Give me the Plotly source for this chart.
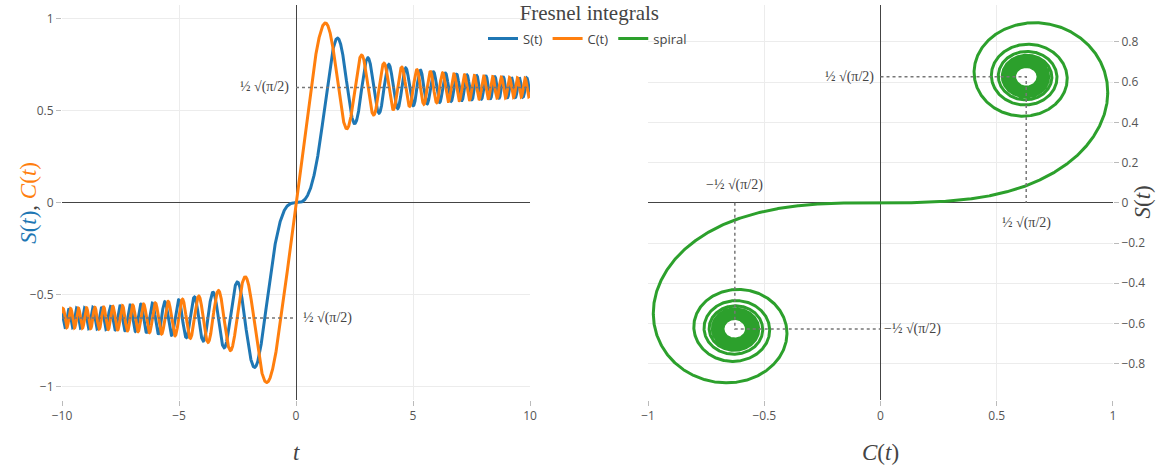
import numpy as np
import plotly.graph_objects as go

# Parameter range of the curves (Fresnel integrals S(t)=∫sin(u²)du, C(t)=∫cos(u²)du)
t_range = [-10, 10]
n_points = 8001
limit = 0.5 * np.sqrt(np.pi / 2)  # asymptotic value

# Axis tick values
left_xticks = [-10, -5, 0, 5, 10]
left_yticks = [-1, -0.5, 0, 0.5, 1]
right_xticks = [-1, -0.5, 0, 0.5, 1]
right_yticks = [-0.8, -0.6, -0.4, -0.2, 0, 0.2, 0.4, 0.6, 0.8]

t = np.linspace(t_range[0], t_range[1], n_points)
dt = t[1] - t[0]
def cumint(f):
    c = np.concatenate([[0], np.cumsum((f[1:] + f[:-1]) / 2 * dt)])
    i0 = np.argmin(np.abs(t))
    return c - c[i0]
S = cumint(np.sin(t ** 2))
C = cumint(np.cos(t ** 2))

blue, orange, green = "#1f77b4", "#ff7f0e", "#2ca02c"
dotc = "#777"

fig = go.Figure()
fig.add_trace(go.Scatter(x=t, y=S, mode="lines", name="S(t)", line=dict(color=blue, width=3), xaxis="x", yaxis="y"))
fig.add_trace(go.Scatter(x=t, y=C, mode="lines", name="C(t)", line=dict(color=orange, width=3), xaxis="x", yaxis="y"))
fig.add_trace(go.Scatter(x=C, y=S, mode="lines", name="spiral", line=dict(color=green, width=3), xaxis="x2", yaxis="y2"))

dot = dict(color=dotc, width=1.5, dash="dot")
# left guide lines
fig.add_trace(go.Scatter(x=[0, 10], y=[limit, limit], mode="lines", line=dot, showlegend=False, hoverinfo="skip", xaxis="x", yaxis="y"))
fig.add_trace(go.Scatter(x=[-10, 0], y=[-limit, -limit], mode="lines", line=dot, showlegend=False, hoverinfo="skip", xaxis="x", yaxis="y"))
# right guide lines
fig.add_trace(go.Scatter(x=[0, limit, limit], y=[limit, limit, 0], mode="lines", line=dot, showlegend=False, hoverinfo="skip", xaxis="x2", yaxis="y2"))
fig.add_trace(go.Scatter(x=[-limit, -limit, 0], y=[0, -limit, -limit], mode="lines", line=dot, showlegend=False, hoverinfo="skip", xaxis="x2", yaxis="y2"))

half = "½ √(π/2)"
lab_font = dict(family="Liberation Serif, serif", size=14, color="#444")
ann = [
    dict(x=0, y=limit, xref="x", yref="y", text=half, showarrow=False, xanchor="right", xshift=-5),
    dict(x=0, y=-limit, xref="x", yref="y", text=half, showarrow=False, xanchor="left", xshift=5),
    dict(x=0, y=limit, xref="x2", yref="y2", text=half, showarrow=False, xanchor="right", xshift=-5),
    dict(x=limit, y=0, xref="x2", yref="y2", text=half, showarrow=False, yanchor="top", yshift=-10),
    dict(x=-limit, y=0, xref="x2", yref="y2", text="−" + half, showarrow=False, yanchor="bottom", yshift=8),
    dict(x=0, y=-limit, xref="x2", yref="y2", text="−" + half, showarrow=False, xanchor="left", xshift=1),
]
for a in ann:
    a["font"] = lab_font

title_font = dict(family="Liberation Serif, serif", size=23, color="#444")
ann += [
    dict(x=0, y=-0.134, xref="x", yref="paper", text="<i>t</i>", showarrow=False,
         xanchor="center", yanchor="middle", font=title_font),
    dict(x=0, y=-0.134, xref="x2", yref="paper", text="<i>C</i>(<i>t</i>)", showarrow=False,
         xanchor="center", yanchor="middle", font=title_font),
    dict(x=-0.032, y=0.5, xref="paper", yref="paper", textangle=-90, showarrow=False,
         xanchor="center", yanchor="middle", font=title_font,
         text=f"<span style='color:{blue}'><i>S</i>(<i>t</i>)</span>, <span style='color:{orange}'><i>C</i>(<i>t</i>)</span>"),
    dict(x=1.0276, y=0.5, xref="paper", yref="paper", textangle=-90, showarrow=False,
         xanchor="center", yanchor="middle", font=title_font, text="<i>S</i>(<i>t</i>)"),
]

axis_common = dict(showgrid=True, gridcolor="#ececec", zeroline=True, zerolinecolor="#444", zerolinewidth=1,
                   ticks="outside", ticklen=5, tickcolor="#bbb", showline=False, automargin=False,
                   tickfont=dict(family="Open Sans, sans-serif", size=12, color="#555"))

fig.update_layout(
    width=1167, height=467,
    margin=dict(l=62, r=54, t=5, b=67),
    plot_bgcolor="white", paper_bgcolor="white",
    title=dict(text="Fresnel integrals", x=0.505, xanchor="center", y=0.972, yanchor="middle",
               font=dict(family="Liberation Serif, serif", size=21, color="#444")),
    legend=dict(orientation="h", x=0.5, xanchor="center", y=0.915, yanchor="middle",
                font=dict(family="Open Sans, sans-serif", size=13, color="#444"), bgcolor="rgba(0,0,0,0)"),
    xaxis=dict(domain=[0, 0.4453], range=[-10, 10], tickvals=left_xticks, anchor="y", **axis_common),
    yaxis=dict(domain=[0, 1], range=[-1.072, 1.075], tickvals=left_yticks, anchor="x", **axis_common),
    xaxis2=dict(domain=[0.5576, 1], range=[-1, 1], tickvals=right_xticks, anchor="y2", **axis_common),
    yaxis2=dict(domain=[0, 1], range=[-0.98, 0.983], tickvals=right_yticks, anchor="x2", side="right", **axis_common),
    annotations=ann,
)
fig.write_html("out.html", config={"displayModeBar": False},
               post_script="document.body.style.margin='0';document.body.style.overflow='hidden';")
